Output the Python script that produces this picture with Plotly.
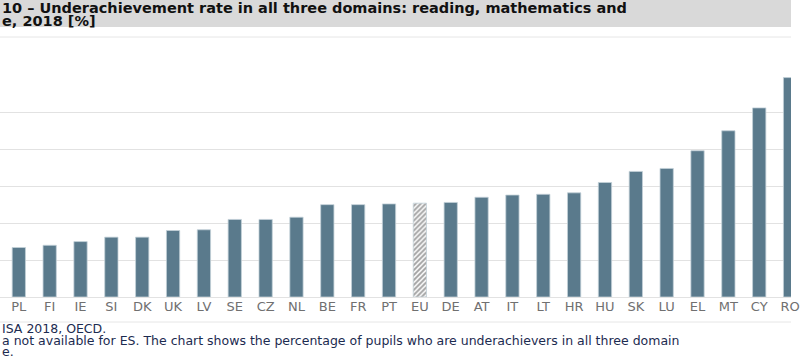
import plotly.graph_objects as go

countries = ["PL", "FI", "IE", "SI", "DK", "UK", "LV", "SE", "CZ", "NL", "BE", "FR", "PT",
             "EU", "DE", "AT", "IT", "LT", "HR", "HU", "SK", "LU", "EL", "MT", "CY", "RO"]
rates = [6.7, 7.0, 7.5, 8.1, 8.1, 9.0, 9.1, 10.5, 10.5, 10.8, 12.5, 12.5, 12.6,
         12.7, 12.8, 13.5, 13.8, 13.9, 14.1, 15.5, 17.0, 17.4, 19.8, 22.5, 25.6, 29.7]

title_lines = ["10 \u2013 Underachievement rate in all three domains: reading, mathematics and",
               "e, 2018 [%]"]
note_lines = ["ISA 2018, OECD.",
              "a not available for ES. The chart shows the percentage of pupils who are underachievers in all three domain",
              "e."]

BAR = "#5a7a8c"
colors = ["white" if c == "EU" else BAR for c in countries]
shapes_pat = ["/" if c == "EU" else "" for c in countries]

fig = go.Figure(go.Bar(
    x=countries, y=rates, width=0.43,
    marker=dict(color=colors,
                line=dict(color="#c3d0d8", width=0.8),
                pattern=dict(shape=shapes_pat, fgcolor=BAR, bgcolor="white",
                             size=3.5, solidity=0.55, fillmode="overlay")),
    hoverinfo="x+y",
))

W, H = 800, 358
T, B = 75, 61
ph = H - T - B


def py(pix):
    return (H - B - pix) / ph


title_font = dict(family="DejaVu Sans", size=14.5, color="#111111", weight="bold")
note_font = dict(family="DejaVu Sans", size=12.5, color="#1c2b50")

fig.update_layout(
    width=W, height=H,
    margin=dict(l=0, r=0, t=T, b=B, pad=0),
    paper_bgcolor="white", plot_bgcolor="white",
    showlegend=False,
    xaxis=dict(type="category", range=[-0.61, 25.03], showgrid=False, showline=False,
               ticks="", tickfont=dict(family="DejaVu Sans", size=13, color="#707070")),
    yaxis=dict(range=[0, 30.05], dtick=5, showgrid=True, gridcolor="#e2e2e2", gridwidth=1.3,
               zeroline=True, zerolinecolor="#e2e2e2", zerolinewidth=1.3,
               showticklabels=False, showline=False, ticks=""),
    shapes=[
        dict(type="rect", xref="paper", yref="paper", x0=0, x1=1, y0=py(27), y1=py(0),
             fillcolor="#d9d9d9", line=dict(width=0), layer="below"),
        dict(type="line", xref="paper", yref="paper", x0=0, x1=1, y0=py(37), y1=py(37),
             line=dict(color="#e6e6e6", width=1)),
        dict(type="line", xref="paper", yref="paper", x0=0, x1=1, y0=py(322), y1=py(322),
             line=dict(color="#e6e6e6", width=1)),
    ],
    annotations=[
        dict(text=title_lines[0], xref="paper", yref="paper", x=0, y=py(8), xanchor="left",
             yanchor="middle", showarrow=False, font=title_font),
        dict(text=title_lines[1], xref="paper", yref="paper", x=0, y=py(21.5), xanchor="left",
             yanchor="middle", showarrow=False, font=title_font),
        dict(text=note_lines[0], xref="paper", yref="paper", x=0, y=py(328.5), xanchor="left",
             yanchor="middle", showarrow=False, font=note_font),
        dict(text=note_lines[1], xref="paper", yref="paper", x=0, y=py(340), xanchor="left",
             yanchor="middle", showarrow=False, font=note_font),
        dict(text=note_lines[2], xref="paper", yref="paper", x=0, y=py(351.5), xanchor="left",
             yanchor="middle", showarrow=False, font=note_font),
    ],
)

fig.write_html("out.html", config={"displayModeBar": False},
               post_script="document.body.style.margin='0';document.body.style.overflow='hidden';")
